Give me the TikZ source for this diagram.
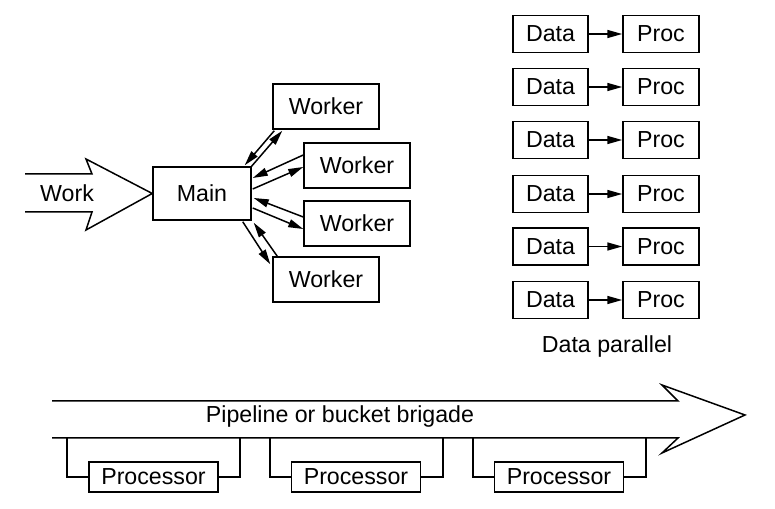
\documentclass[tikz,border=0pt]{standalone}
\usepackage{fontspec}
\setmainfont{Liberation Sans}
\usetikzlibrary{arrows.meta}
\begin{document}
\begin{tikzpicture}[x=0.02cm,y=-0.02cm,line width=0.85pt,
    font=\fontsize{13.2}{15}\selectfont,
    box/.style={draw,inner sep=0pt},
    tip/.style={-{Triangle[length=3mm,width=1.6mm]}}]
      \useasboundingbox (0,0) rectangle (775,509);
      \draw
        (202,193.5) node[box,minimum width=1.96cm,minimum height=1.06cm] (main){Main}
        (326,106.5) node[box,minimum width=2.12cm,minimum height=0.9cm] (w1){Worker}
        (357,165.5) node[box,minimum width=2.12cm,minimum height=0.9cm] (w2){Worker}
        (357,223.5) node[box,minimum width=2.12cm,minimum height=0.9cm] (w3){Worker}
        (326,279.5) node[box,minimum width=2.12cm,minimum height=0.9cm] (w4){Worker};
      \draw
        (550.5,34) node[box,minimum width=1.5cm,minimum height=0.74cm] (d1){Data}
        (550.5,87) node[box,minimum width=1.5cm,minimum height=0.74cm] (d2){Data}
        (550.5,140) node[box,minimum width=1.5cm,minimum height=0.74cm] (d3){Data}
        (550.5,194) node[box,minimum width=1.5cm,minimum height=0.74cm] (d4){Data}
        (550.5,246.5) node[box,minimum width=1.5cm,minimum height=0.74cm] (d5){Data}
        (550.5,300) node[box,minimum width=1.5cm,minimum height=0.74cm] (d6){Data}
        (661,34) node[box,minimum width=1.52cm,minimum height=0.74cm] (p1){Proc}
        (661,87) node[box,minimum width=1.52cm,minimum height=0.74cm] (p2){Proc}
        (661,140) node[box,minimum width=1.52cm,minimum height=0.74cm] (p3){Proc}
        (661,194) node[box,minimum width=1.52cm,minimum height=0.74cm] (p4){Proc}
        (661,246.5) node[box,minimum width=1.52cm,minimum height=0.74cm] (p5){Proc}
        (661,300) node[box,minimum width=1.52cm,minimum height=0.74cm] (p6){Proc}
        (607,347) node (dp){Data parallel};
      \draw
        (153.5,477) node[box,fill=white,minimum width=2.58cm,minimum height=0.6cm] (c1){Processor}
        (356,477) node[box,fill=white,minimum width=2.58cm,minimum height=0.6cm] (c2){Processor}
        (559,477) node[box,fill=white,minimum width=2.58cm,minimum height=0.6cm] (c3){Processor};
      % work arrow into main
      \draw (25,174) -- (92,174) -- (86,159) -- (main.west) -- (86,230) -- (92,212) -- (25,212);
      \node (work) at (67,193) {Work};
      % pipeline arrow
      \draw (52,401) -- (678,401) -- (662,385) -- (745,415) -- (662,453) -- (678,438) -- (52,438);
      \node (pipe) at (340,417) {Pipeline or bucket brigade};
      \coordinate (l1) at (67,438);
      \coordinate (r1) at (240,438);
      \coordinate (l2) at (270,438);
      \coordinate (r2) at (443,438);
      \coordinate (l3) at (473,438);
      \coordinate (r3) at (646,438);
      \begin{scope}[-]
        \draw (l1) |- (c1.west);
        \draw (r1) |- (c1.east);
        \draw (l2) |- (c2.west);
        \draw (r2) |- (c2.east);
        \draw (l3) |- (c3.west);
        \draw (r3) |- (c3.east);
      \end{scope}
      \begin{scope}[tip]
        \draw ([shift={(2,1)}]w1.south west) to ([shift={(-7,-1)}]main.north east);
        \draw ([shift={(-1,1)}]main.north east) to ([shift={(10,1)}]w1.south west);
        \draw ([shift={(0,-10.5)}]w2.west) to ([shift={(1,-15.5)}]main.east);
        \draw ([shift={(1,-4.5)}]main.east) to ([shift={(0,1.5)}]w2.west);
        \draw ([shift={(0,-6.5)}]w3.west) to ([shift={(2,4.5)}]main.east);
        \draw ([shift={(1,14.5)}]main.east) to ([shift={(0,5.5)}]w3.west);
        \draw ([shift={(-9,1)}]main.south east) to ([shift={(-2,8)}]w4.north west);
        \draw ([shift={(5,0)}]w4.north west) to ([shift={(2,2)}]main.south east);
        \draw (d1) to (p1);
        \draw (d2) to (p2);
        \draw (d3) to (p3);
        \draw (d4) to (p4);
        \draw (d5) to (p5);
        \draw (d6) to (p6);
      \end{scope}
    \end{tikzpicture}
\end{document}
